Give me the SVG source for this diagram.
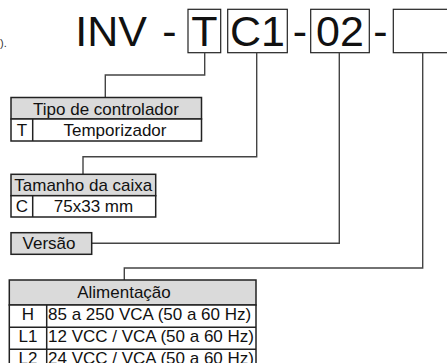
<svg xmlns="http://www.w3.org/2000/svg" width="447" height="363" viewBox="0 0 447 363">
<style>
text{font-family:"Liberation Sans",Arial,sans-serif;fill:#111}
.big{font-size:43px}
.t{font-size:17px}
.c{text-anchor:middle}
.box{fill:#fff;stroke:#222;stroke-width:1.2}
.tb{fill:#fff;stroke:#222;stroke-width:1.5}
.hd{fill:#dadada;stroke:#222;stroke-width:1.5}
.ln{fill:none;stroke:#222;stroke-width:1.5}
.cn{fill:none;stroke:#444;stroke-width:1.4}
</style>
<rect width="447" height="363" fill="#fff"/>
<text x="0" y="47" style="font-size:11px;fill:#333">).</text>
<g id="code">
<text class="big" x="75.3" y="46">INV</text>
<text class="big c" x="169.5" y="46">-</text>
<rect class="box" x="188" y="9.3" width="32.7" height="43.4"/>
<text class="big c" x="204.3" y="46">T</text>
<rect class="box" x="227.7" y="9.3" width="59.6" height="43.4"/>
<text class="big c" x="257.5" y="46">C1</text>
<text class="big c" x="300" y="46">-</text>
<rect class="box" x="310.7" y="9.3" width="58.6" height="43.4"/>
<text class="big c" x="340" y="46">02</text>
<text class="big c" x="380.5" y="46">-</text>
<rect class="box" x="393.3" y="9.3" width="60" height="43.4"/>
</g>
<g id="connectors">
<path class="cn" d="M204.7 52.7V75H105.3V97.5"/>
<path class="cn" d="M256.7 52.7V156.7H83V174.3"/>
<path class="cn" d="M339.3 52.7V243.3H91.7"/>
<path class="cn" d="M422.7 52.7V268H124.3V280"/>
</g>
<g id="tipo">
<rect class="hd" x="11" y="97.5" width="190.5" height="21.5"/>
<rect class="tb" x="11" y="119" width="190.5" height="22"/>
<path class="ln" d="M32.7 119V141"/>
<text class="t c" x="106" y="115">Tipo de controlador</text>
<text class="t c" x="22" y="135.5">T</text>
<text class="t c" x="115" y="135.5">Temporizador</text>
</g>
<g id="tamanho">
<rect class="hd" x="11" y="174.3" width="144.7" height="21.4"/>
<rect class="tb" x="11" y="195.7" width="144.7" height="21.3"/>
<path class="ln" d="M32.7 195.7V217"/>
<text class="t c" x="83.3" y="191">Tamanho da caixa</text>
<text class="t c" x="22" y="212">C</text>
<text class="t c" x="93.5" y="212">75x33 mm</text>
</g>
<g id="versao">
<rect class="hd" x="11" y="232.7" width="80.7" height="21.6"/>
<text class="t c" x="49" y="249.3">Versão</text>
</g>
<g id="alimentacao">
<rect class="hd" x="9.3" y="280" width="246.7" height="25"/>
<rect class="tb" x="9.3" y="305" width="246.7" height="70"/>
<path class="ln" d="M9.3 327.3H256M9.3 349.3H256M46.7 305V375"/>
<text class="t c" x="124" y="297.5">Alimentação</text>
<text class="t c" x="28" y="320">H</text>
<text class="t" x="48" y="320">85 a 250 VCA (50 a 60 Hz)</text>
<text class="t c" x="28" y="342">L1</text>
<text class="t" x="48" y="342">12 VCC / VCA (50 a 60 Hz)</text>
<text class="t c" x="28" y="364">L2</text>
<text class="t" x="48" y="364">24 VCC / VCA (50 a 60 Hz)</text>
</g>
</svg>
